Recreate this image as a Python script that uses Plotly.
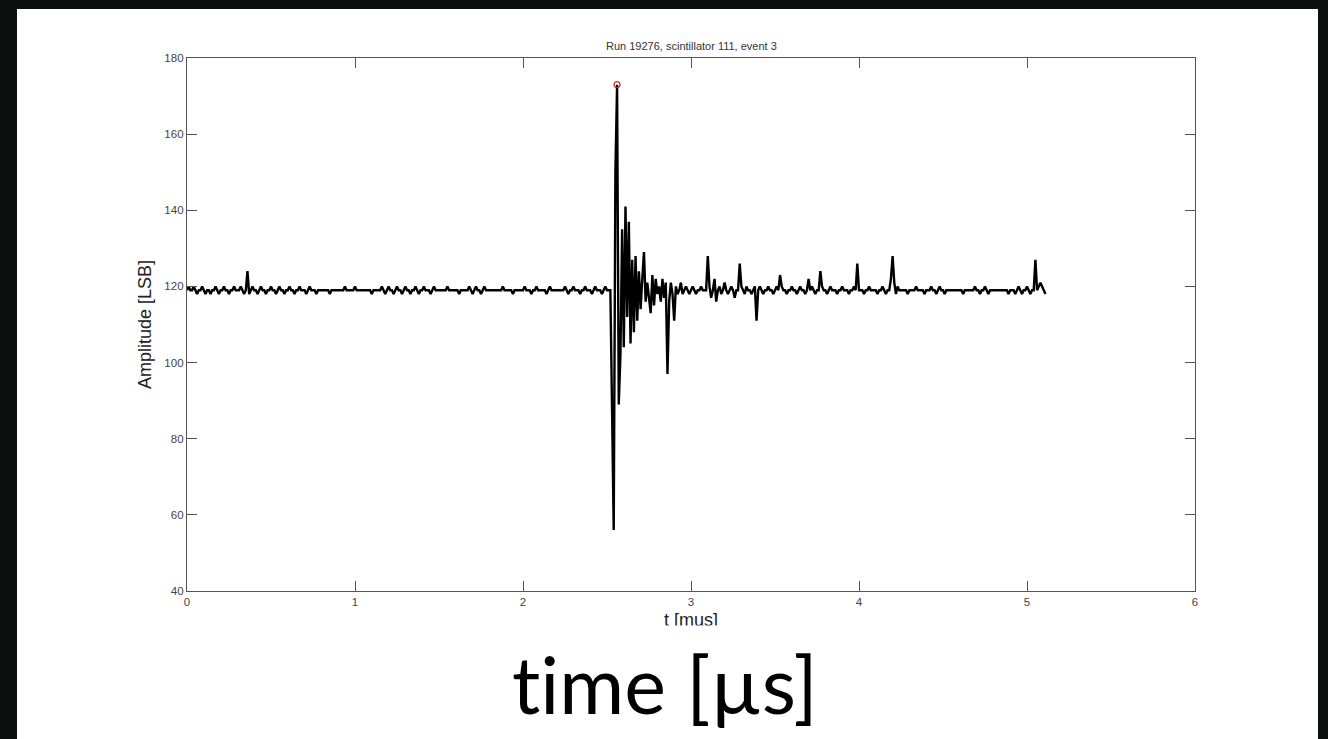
import plotly.graph_objects as go

# Digitised waveform: 512 samples, 10 ns apart (t in microseconds)
sample_step_us = 0.01
amplitude_lsb = [
    119, 120, 119, 119, 120, 119, 118, 119, 119, 120, 119, 118, 119, 119, 118, 119,
    119, 120, 119, 118, 119, 119, 120, 119, 119, 118, 119, 119, 120, 119, 119, 119,
    120, 119, 118, 119, 124, 118, 119, 120, 119, 119, 118, 119, 120, 119, 119, 118,
    119, 119, 120, 119, 119, 118, 119, 120, 119, 119, 118, 119, 119, 120, 119, 119,
    118, 119, 119, 120, 119, 119, 119, 118, 119, 120, 119, 119, 119, 118, 119, 119,
    119, 119, 119, 119, 119, 118, 119, 119, 119, 119, 119, 119, 119, 119, 120, 119,
    119, 119, 119, 119, 120, 119, 119, 119, 119, 119, 119, 119, 119, 119, 118, 119,
    119, 119, 119, 119, 120, 119, 118, 119, 120, 119, 119, 118, 119, 120, 119, 119,
    118, 119, 120, 119, 119, 118, 119, 119, 120, 119, 118, 119, 119, 120, 119, 119,
    119, 118, 119, 120, 119, 119, 119, 119, 119, 119, 119, 120, 119, 119, 119, 119,
    119, 119, 118, 119, 119, 119, 119, 119, 120, 119, 118, 119, 120, 119, 119, 118,
    119, 120, 119, 119, 119, 119, 119, 119, 119, 119, 119, 119, 120, 119, 119, 119,
    119, 119, 118, 119, 119, 119, 119, 119, 119, 120, 119, 119, 119, 118, 119, 119,
    120, 119, 119, 119, 119, 119, 118, 119, 120, 119, 119, 119, 119, 119, 119, 119,
    119, 120, 119, 118, 119, 119, 120, 119, 119, 119, 118, 119, 119, 120, 119, 119,
    119, 118, 119, 120, 119, 119, 119, 118, 119, 120, 119, 119, 119,
    # pulse
    88, 56, 150, 173, 89, 102, 135, 104, 141, 112, 137, 105, 127, 108, 128, 111,
    124, 114, 122, 129, 116, 121, 117, 113, 123, 115, 122, 118, 120, 116, 122, 117,
    121, 97, 116, 121, 118, 111, 120, 118, 119, 121, 118, 119, 120, 119, 118,
    # tail
    119, 120, 119, 118, 119, 119, 120, 119, 119, 119, 128, 120, 117, 119, 122, 116,
    119, 120, 118, 119, 121, 119, 118, 119, 120, 119, 117, 119, 119, 126, 120, 119,
    118, 120, 119, 119, 118, 119, 120, 111, 119, 120, 119, 118, 119, 119, 120, 119,
    119, 118, 119, 120, 119, 123, 120, 119, 119, 118, 119, 119, 120, 119, 119, 118,
    119, 120, 119, 119, 118, 119, 122, 119, 120, 119, 118, 119, 119, 124, 120, 119,
    119, 118, 119, 120, 119, 119, 119, 118, 119, 119, 120, 119, 119, 119, 118, 119,
    119, 120, 119, 126, 119, 119, 119, 118, 119, 119, 120, 119, 119, 119, 119, 118,
    119, 119, 120, 119, 118, 119, 119, 122, 128, 121, 118, 120, 119, 119, 119, 119,
    119, 118, 119, 119, 119, 119, 120, 119, 119, 119, 119, 118, 119, 119, 119, 120,
    119, 119, 118, 119, 120, 119, 119, 118, 119, 119, 119, 119, 119, 119, 119, 119,
    119, 119, 118, 119, 119, 119, 119, 119, 119, 120, 119, 119, 118, 119, 119, 120,
    119, 118, 119, 119, 119, 119, 119, 119, 119, 119, 119, 119, 119, 118, 119, 119,
    119, 118, 119, 120, 119, 118, 119, 119, 120, 119, 118, 119, 119, 127, 119, 120,
    121, 120, 119, 118,
]
time_us = [round(i * sample_step_us, 2) for i in range(len(amplitude_lsb))]

x_ticks = [0, 1, 2, 3, 4, 5, 6]
y_ticks = [40, 60, 80, 100, 120, 140, 160, 180]

# maximum sample, highlighted with a ring
peak_idx = max(range(len(amplitude_lsb)), key=lambda i: amplitude_lsb[i])
peak_t = [time_us[peak_idx]]
peak_v = [amplitude_lsb[peak_idx]]

W, H = 1328, 739
L, R, T, B = 187, 133, 58, 148
PW, PH = W - L - R, H - T - B


def px(x):
    return (x - L) / PW


def py(y):
    return (H - B - y) / PH


fig = go.Figure()
fig.add_trace(go.Scatter(
    x=time_us, y=amplitude_lsb, mode="lines",
    line=dict(color="black", width=2.4), hoverinfo="skip", showlegend=False,
))
fig.add_trace(go.Scatter(
    x=peak_t, y=peak_v, mode="markers",
    marker=dict(symbol="circle-open", size=6, color="#d02020", line=dict(width=1.2)),
    showlegend=False,
))

axis_font = dict(family="Liberation Sans, Arial, sans-serif", size=11.5, color="#444")
common = dict(
    showline=True, linecolor="#555", linewidth=1.3, mirror="ticks",
    ticks="inside", ticklen=10, tickwidth=1.2, tickcolor="#555",
    showgrid=False, zeroline=False, tickfont=axis_font,
)
fig.update_xaxes(
    range=[0, 6], tickvals=x_ticks, ticktext=[str(v) for v in x_ticks],
    title=dict(text="t [mus]", font=dict(family="Liberation Sans, Arial, sans-serif",
                                          size=18, color="#222"), standoff=6),
    **common,
)
fig.update_yaxes(
    range=[40, 180], tickvals=y_ticks, ticktext=[str(v) for v in y_ticks],
    title=dict(text="Amplitude [LSB]", font=dict(family="Liberation Sans, Arial, sans-serif",
                                                  size=18, color="#222"), standoff=8),
    **common,
)

# white sheet behind the chart
fig.add_shape(type="rect", xref="paper", yref="paper",
              x0=px(17), x1=px(1318), y0=py(739), y1=py(9),
              fillcolor="white", line=dict(width=0), layer="below")

fig.add_annotation(
    text="Run 19276, scintillator 111, event 3", xref="paper", yref="paper",
    x=0.5, y=py(46), xanchor="center", yanchor="middle", showarrow=False,
    font=dict(family="Liberation Sans, Arial, sans-serif", size=11, color="#333"),
)
# trims the lower edge of the axis title
fig.add_annotation(
    text=" ", xref="paper", yref="paper", x=px(691), y=py(625),
    xanchor="center", yanchor="top", showarrow=False,
    width=140, height=18, bgcolor="white", borderpad=0,
)
fig.add_annotation(
    text="t\u200cime [µs]", xref="paper", yref="paper",
    x=px(665), y=py(683), xanchor="center", yanchor="middle", showarrow=False,
    font=dict(family="Lato, Open Sans, sans-serif", size=79, color="black"),
)

fig.update_layout(
    width=W, height=H,
    margin=dict(l=L, r=R, t=T, b=B),
    paper_bgcolor="#0c110f", plot_bgcolor="white",
)

fig.write_html("out.html")
